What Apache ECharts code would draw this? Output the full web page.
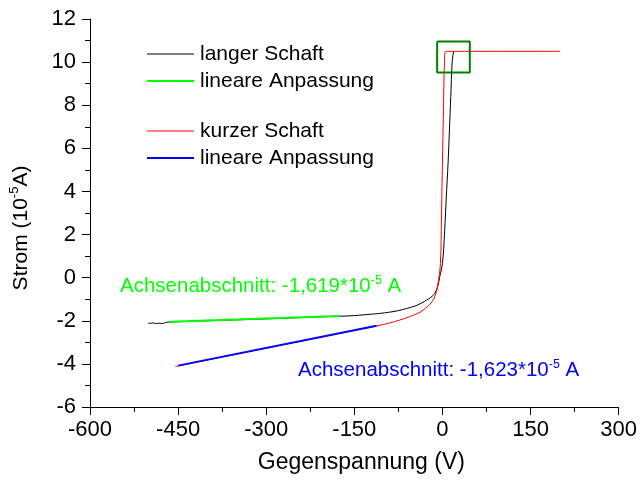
<!DOCTYPE html>
<html><head><meta charset="utf-8">
<script src="https://cdn.jsdelivr.net/npm/echarts@6/dist/echarts.min.js"></script>
<style>html,body{margin:0;padding:0;background:#fff}#c{width:640px;height:482px}</style>
</head><body><div id="c"></div>
<script>
// Tick settings
const xTicks = [-600, -450, -300, -150, 0, 150, 300];
const yTicks = [-6, -4, -2, 0, 2, 4, 6, 8, 10, 12];

// langer Schaft (black)
const blackV = [-501,-497,-492,-487,-482,-477,-472,-467,-400,-300,-200,-175,-150,-120,-107,-90,-75,-61,-45,-35,-27,-20,-13,-8,-4.6,-2,0,2,3.9,6.5,9.6,12,14.2,16.4,17.8,19.3];
const blackI = [-2.10,-2.12,-2.10,-2.13,-2.11,-2.13,-2.09,-2.06,-2.00,-1.91,-1.81,-1.79,-1.76,-1.69,-1.66,-1.60,-1.53,-1.43,-1.30,-1.17,-1.04,-0.92,-0.73,-0.40,0.04,0.35,0.66,1.30,2.21,3.70,5.31,6.90,8.41,9.96,10.30,10.50];

// lineare Anpassung (green) for langer Schaft
const greenV = [-464, -175];
const greenI = [-2.05, -1.78];

// kurzer Schaft (red)
const redV = [-455,-450,-400,-300,-200,-150,-112,-90,-73,-55,-40,-33,-25,-18,-13,-8,-3.4,-1.5,0,1.7,3.4,5.6,200];
const redI = [-4.12,-4.10,-3.82,-3.27,-2.72,-2.44,-2.24,-2.10,-1.97,-1.80,-1.63,-1.51,-1.33,-1.12,-0.89,-0.35,0.66,3.0,5.31,7.7,9.96,10.5,10.5];

// lineare Anpassung (blue) for kurzer Schaft
const blueV = [-450, -112];
const blueI = [-4.08, -2.235];

// green highlight box
const boxV = [-9, 46.6, 46.6, -9, -9];
const boxI = [10.96, 10.96, 9.52, 9.52, 10.96];

const FONT = 'Arial, "Liberation Sans", sans-serif';
const pairs = (xs, ys) => xs.map((x, i) => [x, ys[i]]);
const THIN = 'path://M0,0L47,0L47,1L0,1Z';
const THICK = 'path://M0,0L47,0L47,2L0,2Z';

const chart = echarts.init(document.getElementById('c'), null, {renderer: 'canvas'});

const axisCommon = {
  type: 'value',
  axisLine: {show: true, onZero: false, lineStyle: {color: '#000', width: 1}},
  axisTick: {show: true, length: 8, lineStyle: {color: '#000', width: 1}},
  minorTick: {show: true, splitNumber: 2, length: 5, lineStyle: {color: '#000', width: 1}},
  splitLine: {show: false},
  minorSplitLine: {show: false},
  axisLabel: {color: '#000', fontSize: 22, fontFamily: FONT, showMinLabel: true, showMaxLabel: true}
};

const legendCommon = {
  orient: 'vertical', left: 147, padding: 0, itemWidth: 47, itemHeight: 14, itemGap: 3,
  selectedMode: false, symbolKeepAspect: true,
  itemStyle: {borderWidth: 0},
  textStyle: {color: '#000', fontSize: 21, fontFamily: FONT, lineHeight: 24, padding: [0, 0, 0, 1]}
};

const option = {
  animation: false,
  backgroundColor: '#fff',
  grid: {left: 90, right: 21, top: 19, bottom: 75},
  xAxis: Object.assign({}, axisCommon, {
    min: xTicks[0], max: xTicks[xTicks.length - 1], interval: 150,
    axisLabel: Object.assign({}, axisCommon.axisLabel, {margin: 12}),
    name: 'Gegenspannung (V)', nameLocation: 'middle', nameGap: 44,
    nameTextStyle: {color: '#000', fontSize: 23, fontFamily: FONT, padding: [0, 0, 0, 14]}
  }),
  yAxis: Object.assign({}, axisCommon, {
    min: yTicks[0], max: yTicks[yTicks.length - 1], interval: 2,
    axisLabel: Object.assign({}, axisCommon.axisLabel, {margin: 14}),
    name: 'Strom (10{sup|-5}A)', nameLocation: 'middle', nameGap: 56,
    nameTextStyle: {color: '#000', fontSize: 21, fontFamily: FONT, lineHeight: 26, padding: [0, 30, 0, 0],
      rich: {sup: {fontSize: 13, color: '#000', fontFamily: FONT, verticalAlign: 'top', lineHeight: 16}}}
  }),
  legend: [
    Object.assign({}, legendCommon, {top: 42,
      data: [{name: 'langer Schaft', icon: THIN}, {name: 'lineare Anpassung', icon: THICK}]}),
    Object.assign({}, legendCommon, {top: 119,
      data: [{name: 'kurzer Schaft', icon: THIN}, {name: 'lineare Anpassung ', icon: THICK}]})
  ],
  graphic: [
    {type: 'text', x: 120, y: 286, silent: true,
     style: {text: 'Achsenabschnitt: -1,619*10{sup|-5} A', fill: '#00ff00', fontSize: 20.5, fontFamily: FONT,
       verticalAlign: 'middle', lineHeight: 24,
       rich: {sup: {fill: '#00ff00', fontSize: 12.5, fontFamily: FONT, verticalAlign: 'top', lineHeight: 14}}}},
    {type: 'text', x: 298, y: 370, silent: true,
     style: {text: 'Achsenabschnitt: -1,623*10{sup|-5} A', fill: '#0000ff', fontSize: 20.5, fontFamily: FONT,
       verticalAlign: 'middle', lineHeight: 24,
       rich: {sup: {fill: '#0000ff', fontSize: 12.5, fontFamily: FONT, verticalAlign: 'top', lineHeight: 14}}}}
  ],
  series: [
    {name: 'langer Schaft', type: 'line', data: pairs(blackV, blackI), symbol: 'none', smooth: 0.3,
     lineStyle: {color: '#000', width: 1}, itemStyle: {color: '#000'}},
    {name: 'kurzer Schaft', type: 'line', data: pairs(redV, redI), symbol: 'none', smooth: 0.3,
     lineStyle: {color: '#ff0000', width: 1}, itemStyle: {color: '#ff0000'}},
    {name: 'lineare Anpassung', type: 'line', data: pairs(greenV, greenI), symbol: 'none',
     lineStyle: {color: '#00ff00', width: 2}, itemStyle: {color: '#00ff00'}},
    {name: 'lineare Anpassung ', type: 'line', data: pairs(blueV, blueI), symbol: 'none',
     lineStyle: {color: '#0000ff', width: 2}, itemStyle: {color: '#0000ff'}},
    {name: 'box', type: 'line', data: pairs(boxV, boxI), symbol: 'none',
     lineStyle: {color: '#008000', width: 2}, itemStyle: {color: '#008000'}}
  ]
};
chart.setOption(option);
</script>
</body></html>
